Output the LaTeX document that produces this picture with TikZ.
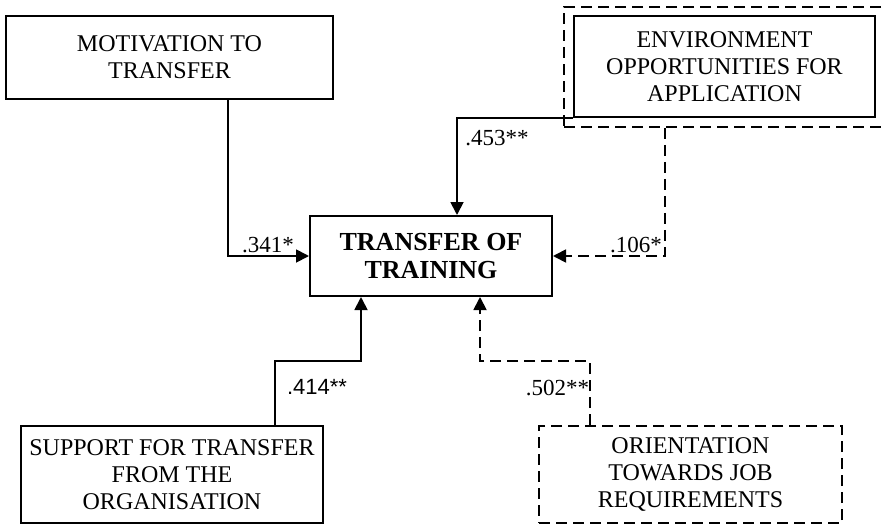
\documentclass[tikz,border=0pt]{standalone}
\usepackage{fontspec}
\setmainfont{Liberation Serif}
\newfontfamily\arialfont{Liberation Sans}
\usetikzlibrary{arrows.meta}
\begin{document}
\begin{tikzpicture}[x=1pt,y=-1pt,
  box/.style={draw,line width=2pt,rectangle,align=center,inner sep=0pt,
    font=\fontsize{24}{27}\selectfont},
  dbox/.style={box,line width=1.8pt,dash pattern=on 11pt off 6pt},
  conn/.style={line width=1.8pt},
  dconn/.style={line width=1.8pt,dash pattern=on 11pt off 6pt},
  tip/.style={-{Triangle[length=13pt,width=13pt]}},
  lbl/.style={inner sep=0pt,anchor=base,font=\fontsize{23}{26}\selectfont}]
\useasboundingbox (0,0) rectangle (886,525);
% boxes
\node[box,minimum width=327pt,minimum height=83pt] (mot) at (169.5,57.5) {MOTIVATION TO\\TRANSFER};
\node[dbox,minimum width=345pt,minimum height=120pt,font=\relax] (envout) at (736.5,67) {};
\node[box,minimum width=301pt,minimum height=101pt,fill=white] (env) at (724.5,66.5) {ENVIRONMENT\\OPPORTUNITIES FOR\\APPLICATION};
\node[box,minimum width=242pt,minimum height=80pt,font=\fontsize{26}{28}\selectfont\bfseries] (tot) at (431,256) {TRANSFER OF\\TRAINING};
\node[box,minimum width=302pt,minimum height=97pt] (sup) at (172,474.5) {SUPPORT FOR TRANSFER\\FROM THE\\ORGANISATION};
\node[dbox,minimum width=303pt,minimum height=97pt] (ori) at (690.5,474.5) {ORIENTATION\\TOWARDS JOB\\REQUIREMENTS};
% helper coordinates
\coordinate (m1) at (228,0);
\coordinate (e1) at (457,0);
\coordinate (d1) at (665,0);
\coordinate (s1) at (275,361);
\coordinate (s2) at (361,361);
\coordinate (o1) at (590,361);
\coordinate (o2) at (480,361);
% connectors
\draw[conn,tip] (m1 |- mot.south) |- (tot.west);
\draw[conn,tip] (env.south west) -| (e1 |- tot.north);
\draw[dconn,tip] (d1 |- envout.south) |- (tot.east);
\draw[conn,tip] (s1 |- sup.north) -- (s1) -- (s2) -- (s2 |- tot.south);
\draw[dconn,tip] (o1 |- ori.north) -- (o1) -- (o2) -- (o2 |- tot.south);
% labels
\node[lbl] (l341) at (268,252) {.341*};
\node[lbl] (l453) at (497,145) {.453**};
\node[lbl] (l106) at (636,252) {.106*};
\node[lbl,font=\arialfont\fontsize{22}{25}\selectfont] (l414) at (317,394) {.414**};
\node[lbl] (l502) at (557.5,395) {.502**};
\end{tikzpicture}
\end{document}
